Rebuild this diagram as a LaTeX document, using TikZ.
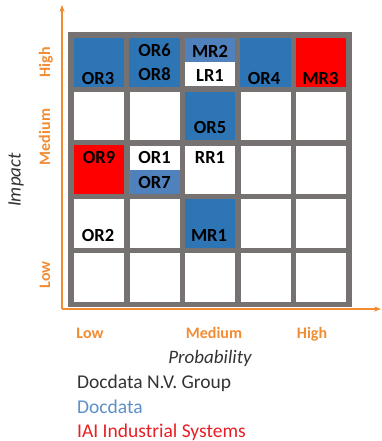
\documentclass[tikz,border=0pt]{standalone}
\usepackage{fontspec}
\setmainfont{Carlito}
\usetikzlibrary{arrows.meta}
\definecolor{gridgray}{RGB}{118,114,113}
\definecolor{riskblue}{RGB}{46,117,182}
\definecolor{lightblue}{RGB}{79,129,189}
\definecolor{riskred}{RGB}{255,0,0}
\definecolor{axisorange}{RGB}{242,140,50}
\definecolor{legendblue}{RGB}{91,143,199}
\definecolor{legendred}{RGB}{232,30,37}
\definecolor{legendgray}{RGB}{51,51,51}

\begin{document}
\begin{tikzpicture}[x=1pt, y=-1pt,
    cell/.style={fill=white, minimum width=50pt, minimum height=48.5pt, inner sep=0pt},
    risk/.style={font=\fontsize{18.5}{18.5}\selectfont\bfseries, black, inner sep=0pt},
    level/.style={font=\fontsize{16}{16}\selectfont\bfseries, axisorange, inner sep=0pt},
    axisname/.style={font=\fontsize{19}{19}\selectfont\itshape, legendgray, inner sep=0pt},
    legend/.style={font=\fontsize{19.5}{19.5}\selectfont, inner sep=0pt, anchor=base west}]
\useasboundingbox (0,0) rectangle (382,441);

% 1. 标记重要的点
\coordinate (O) at (62, 309);
\coordinate (ymax) at (62, 5);
\coordinate (xmax) at (381, 309);

% 2. 灰色底板和 5x5 的格子
\fill[gridgray] (68, 32) rectangle (352, 306.5);
\foreach \r in {0,...,4}
  \foreach \c in {0,...,4}
    {\node[cell] (c\r\c) at ({99+55.5*\c}, {62.25+53.75*\r}) {};
    }
\foreach \r/\c/\col in
    {0/0/riskblue, 0/1/riskblue, 0/3/riskblue, 0/4/riskred,
     1/2/riskblue, 2/0/riskred, 3/2/riskblue}
    {\fill[\col] (c\r\c.north west) rectangle (c\r\c.south east);
    }
\fill[lightblue] (c02.north west) rectangle (c02.east);
\fill[lightblue] (c21.west) rectangle (c21.south east);

% 3. 风险编号
\foreach \name/\x/\y/\txt in
    {or3/98/78/OR3, or6/154.5/50/OR6, or8/154.5/74/OR8,
     mr2/210/51/MR2, lr1/210/75/LR1, or4/264/78/OR4, mr3/320.5/78/MR3,
     or5/210/127/OR5, or9/99/157/OR9, or1/154.5/157/OR1, or7/154.5/182/OR7,
     rr1/210/157/RR1, or2/98/235/OR2, mr1/209/235/MR1}
    {\node[risk] (\name) at (\x, \y) {\txt};
    }

% 4. 坐标轴
\draw[axisorange, line width=1.5pt, -{Stealth[length=7pt]}] (O) -- (ymax);
\draw[axisorange, line width=1.5pt, -{Stealth[length=7pt]}] (O) -- (xmax);
\foreach \name/\loc/\txt in {ylow/275/Low, ymed/137/Medium, yhigh/62/High}
    {\node[level, rotate=90, anchor=base] (\name) at (50, \loc) {\txt};
    }
\foreach \name/\loc/\txt in {xlow/90/Low, xmed/214/Medium, xhigh/312/High}
    {\node[level, anchor=base] (\name) at (\loc, 338) {\txt};
    }
\node[axisname, rotate=90] (impact) at (16, 180) {Impact};
\node[axisname, anchor=base] (prob) at (210, 363) {Probability};

% 5. 图例
\node[legend, legendgray] (group) at (77, 388) {Docdata N.V. Group};
\node[legend, legendblue] (docdata) at (77, 413) {Docdata};
\node[legend, legendred] (iai) at (77, 437) {IAI Industrial Systems};
\end{tikzpicture}
\end{document}
